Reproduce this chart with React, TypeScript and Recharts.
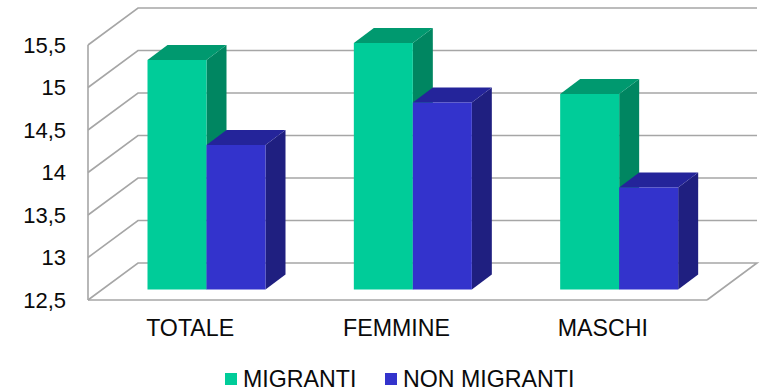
import { Bar, BarChart, CartesianGrid, Legend, XAxis, YAxis } from "recharts";

const categories = ["TOTALE", "FEMMINE", "MASCHI"];
const migranti = [15.2, 15.4, 14.8];
const nonMigranti = [14.2, 14.7, 13.7];
const yTicks = [12.5, 13, 13.5, 14, 14.5, 15, 15.5];

const chartData = categories.map((name, i) => ({
  name,
  migranti: migranti[i],
  nonMigranti: nonMigranti[i],
}));

const FONT = "'Liberation Sans', Arial, sans-serif";
const WALL_COLOR = "#a6a6a6";
// oblique offset of the back wall and of the bars inside the floor
const WALL_DX = 50;
const WALL_DY = 37;
const BAR_DX = 15.5;
const BAR_DY = 10.5;
const SIDE_DX = 20;
const SIDE_DY = 15;

const seriesColors = {
  migranti: { front: "#00cc99", top: "#00996f", side: "#008661" },
  nonMigranti: { front: "#3333cc", top: "#24249a", side: "#1f1f80" },
};

function WallLine(props: any) {
  const { x1, y1, x2, y, height } = props;
  const isFloor = Math.abs(y1 - (y + height)) < 0.5;
  const points = [
    [x1, y1],
    [x1 + WALL_DX, y1 - WALL_DY],
    [x2 + WALL_DX, y1 - WALL_DY],
  ];
  if (isFloor) points.push([x2, y1]);
  return (
    <polyline
      points={points.map((p) => p.join(",")).join(" ")}
      fill="none"
      stroke={WALL_COLOR}
      strokeWidth={1.6}
    />
  );
}

function Box3D(props: any) {
  const { x, y, width, height, colors } = props;
  const left = x + BAR_DX;
  const right = left + width;
  const top = y - BAR_DY;
  const bottom = top + height;
  return (
    <g>
      <polygon
        points={`${right},${top} ${right + SIDE_DX},${top - SIDE_DY} ${right + SIDE_DX},${bottom - SIDE_DY} ${right},${bottom}`}
        fill={colors.side}
      />
      <polygon
        points={`${left},${top} ${left + SIDE_DX},${top - SIDE_DY} ${right + SIDE_DX},${top - SIDE_DY} ${right},${top}`}
        fill={colors.top}
      />
      <rect x={left} y={top} width={width} height={height} fill={colors.front} />
    </g>
  );
}

function LegendRow() {
  const items = [
    { label: "MIGRANTI", color: seriesColors.migranti.front, left: 225 },
    { label: "NON MIGRANTI", color: seriesColors.nonMigranti.front, left: 385 },
  ];
  return (
    <div style={{ position: "relative", height: 42, fontFamily: FONT, fontSize: 23.2, color: "#0a0a0a" }}>
      {items.map((item) => (
        <div key={item.label} style={{ position: "absolute", left: item.left, top: 16, lineHeight: "26px", whiteSpace: "nowrap" }}>
          <span style={{ position: "absolute", left: 0, top: 7, width: 12, height: 12, background: item.color }} />
          <span style={{ marginLeft: 18 }}>{item.label}</span>
        </div>
      ))}
    </div>
  );
}

export default function App() {
  return (
    <div style={{ position: "absolute", left: 0, top: 0, background: "#fff" }}>
      <BarChart
        width={765}
        height={392}
        data={chartData}
        margin={{ top: 45, right: 58, bottom: 0, left: 0 }}
        barGap={0}
        barSize={59}
      >
        <CartesianGrid vertical={false} horizontal={(p: any) => <WallLine key={p.key ?? p.y1} {...p} />} />
        <XAxis
          dataKey="name"
          height={50}
          tickLine={false}
          axisLine={{ stroke: WALL_COLOR, strokeWidth: 1.6 }}
          tick={{ fontFamily: FONT, fontSize: 23.2, fill: "#0a0a0a", dx: -1 }}
          tickMargin={14}
        />
        <YAxis
          width={88}
          domain={[12.5, 15.5]}
          ticks={yTicks}
          interval={0}
          tickLine={false}
          axisLine={{ stroke: WALL_COLOR, strokeWidth: 1.6 }}
          tick={{ fontFamily: FONT, fontSize: 22, fill: "#0a0a0a" }}
          tickMargin={16}
          tickFormatter={(v: number) => String(v).replace(".", ",")}
        />
        <Legend verticalAlign="bottom" height={42} content={<LegendRow />} />
        <Bar
          dataKey="migranti"
          name="MIGRANTI"
          isAnimationActive={false}
          shape={(p: any) => <Box3D {...p} colors={seriesColors.migranti} />}
        />
        <Bar
          dataKey="nonMigranti"
          name="NON MIGRANTI"
          isAnimationActive={false}
          shape={(p: any) => <Box3D {...p} colors={seriesColors.nonMigranti} />}
        />
      </BarChart>
    </div>
  );
}
